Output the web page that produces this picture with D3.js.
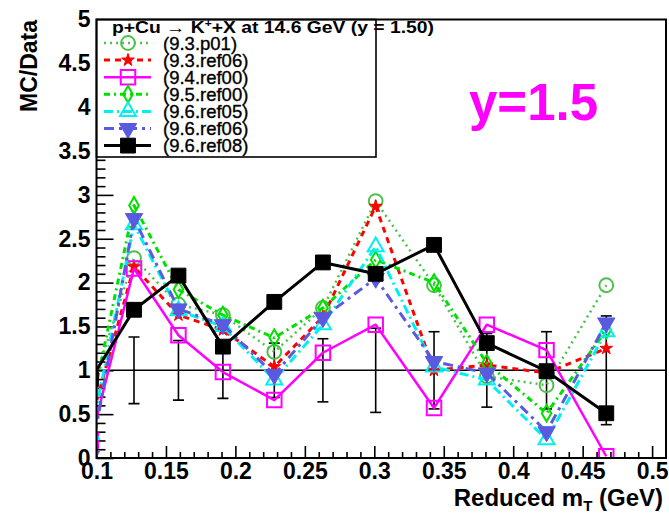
<!DOCTYPE html>
<html>
<head>
<meta charset="utf-8">
<script src="https://cdn.jsdelivr.net/npm/d3@7"></script>
<style>
  html, body { margin: 0; padding: 0; background: #fff; }
  svg { display: block; font-family: "Liberation Sans", Arial, sans-serif; }
</style>
</head>
<body>
<svg id="chart" width="669" height="516"></svg>
<script>
// Bin centres in reduced transverse mass (GeV)
const mtBins = [0.096, 0.127, 0.159, 0.191, 0.228, 0.263, 0.301, 0.343, 0.381, 0.424, 0.467];

// Relative data uncertainty drawn around the MC/Data = 1 reference
const dataErr = [0.40, 0.38, 0.34, 0.32, 0.31, 0.36, 0.48, 0.44, 0.42, 0.44, 0.62];

// MC/Data ratio for each generator version
const v93p01   = [0.75, 2.28, 1.75, 1.63, 1.21, 1.71, 2.93, 1.97, 0.93, 0.83, 1.97];
const v93ref06 = [0.42, 2.18, 1.63, 1.46, 1.04, 1.61, 2.87, 1.00, 1.06, 0.97, 1.25];
const v94ref00 = [0.20, 2.16, 1.40, 0.98, 0.66, 1.20, 1.52, 0.57, 1.52, 1.23, 0.02];
const v95ref00 = [0.55, 2.88, 1.92, 1.63, 1.37, 1.71, 2.26, 2.00, 1.08, 0.51, 1.46];
const v96ref05 = [0.27, 2.66, 1.68, 1.50, 0.89, 1.52, 2.41, 1.04, 0.89, 0.21, 1.44];
const v96ref06 = [0.02, 2.73, 1.70, 1.52, 0.95, 1.60, 2.05, 1.10, 0.97, 0.30, 1.54];
const v96ref08 = [0.90, 1.69, 2.08, 1.27, 1.78, 2.23, 2.10, 2.43, 1.31, 0.99, 0.51];

const seriesNames = ["(9.3.p01)", "(9.3.ref06)", "(9.4.ref00)", "(9.5.ref00)", "(9.6.ref05)", "(9.6.ref06)", "(9.6.ref08)"];

// Axis tick labels
const xTickValues = [0.1, 0.15, 0.2, 0.25, 0.3, 0.35, 0.4, 0.45, 0.5];
const xTickLabels = ["0.1", "0.15", "0.2", "0.25", "0.3", "0.35", "0.4", "0.45", "0.5"];
const yTickValues = [0, 0.5, 1, 1.5, 2, 2.5, 3, 3.5, 4, 4.5, 5];
const yTickLabels = ["0", "0.5", "1", "1.5", "2", "2.5", "3", "3.5", "4", "4.5", "5"];

// Style for each series (colour, dash pattern, marker)
const styles = [
  { color: "#4cc24c", dash: "2,4",        width: 2.5, symbol: d3.symbolCircle,   size: 150, filled: false, rot: 0 },
  { color: "#ff0000", dash: "6,5",        width: 3,   symbol: d3.symbolStar,     size: 50,  filled: true,  rot: 0 },
  { color: "#ff00ff", dash: null,         width: 2.5, symbol: d3.symbolSquare,   size: 210, filled: false, rot: 0 },
  { color: "#00e000", dash: "6,4,2,4",    width: 3,   symbol: d3.symbolDiamond,  size: 80,  filled: false, rot: 0 },
  { color: "#00f0f0", dash: "9,4,2,4",    width: 3,   symbol: d3.symbolTriangle, size: 110, filled: false, rot: 0 },
  { color: "#5a5ae0", dash: "10,5,3,5",   width: 3,   symbol: d3.symbolTriangle, size: 130, filled: true,  rot: 180 },
  { color: "#000000", dash: null,         width: 3,   symbol: d3.symbolSquare,   size: 220, filled: true,  rot: 0 }
];
const seriesValues = [v93p01, v93ref06, v94ref00, v95ref00, v96ref05, v96ref06, v96ref08];

const svg = d3.select("#chart");
const frame = { left: 96.5, right: 666, top: 19.5, bottom: 458 };

const x = d3.scaleLinear().domain([0.1, 0.51]).range([frame.left, frame.right]);
const y = d3.scaleLinear().domain([0, 5]).range([frame.bottom, frame.top]);

svg.append("defs").append("clipPath").attr("id", "plotClip")
  .append("rect")
  .attr("x", frame.left).attr("y", frame.top)
  .attr("width", frame.right - frame.left).attr("height", frame.bottom - frame.top);

// Axes: minor ticks first, then major ticks with labels
const xMinor = d3.range(0.11, 0.51, 0.01).filter(v => Math.abs(v * 20 - Math.round(v * 20)) > 1e-6);
svg.append("g").attr("transform", `translate(0,${frame.bottom})`)
  .call(d3.axisBottom(x).tickValues(xMinor).tickSize(-6).tickFormat(""))
  .call(g => g.select(".domain").remove())
  .call(g => g.selectAll("line").attr("stroke", "#000").attr("stroke-width", 1.6));

svg.append("g").attr("transform", `translate(0,${frame.bottom})`)
  .call(d3.axisBottom(x).tickValues(xTickValues).tickSize(-12).tickPadding(5)
    .tickFormat((d, i) => xTickLabels[i]))
  .call(g => g.select(".domain").remove())
  .call(g => g.selectAll("line").attr("stroke", "#000").attr("stroke-width", 1.6))
  .call(g => g.selectAll("text").attr("font-size", 23).attr("font-weight", "bold")
    .attr("fill", "#000").attr("font-family", "Liberation Sans, Arial, sans-serif"));

const yMinor = d3.range(0, 50).map(i => i / 10).filter(v => Math.abs(v * 2 - Math.round(v * 2)) > 1e-6);
svg.append("g").attr("transform", `translate(${frame.left},0)`)
  .call(d3.axisLeft(y).tickValues(yMinor).tickSize(-9).tickFormat(""))
  .call(g => g.select(".domain").remove())
  .call(g => g.selectAll("line").attr("stroke", "#000").attr("stroke-width", 1.6));

svg.append("g").attr("transform", `translate(${frame.left},0)`)
  .call(d3.axisLeft(y).tickValues(yTickValues).tickSize(-17).tickPadding(6)
    .tickFormat((d, i) => yTickLabels[i]))
  .call(g => g.select(".domain").remove())
  .call(g => g.selectAll("line").attr("stroke", "#000").attr("stroke-width", 1.6))
  .call(g => g.selectAll("text").attr("font-size", 23).attr("font-weight", "bold")
    .attr("fill", "#000").attr("font-family", "Liberation Sans, Arial, sans-serif"));

const plot = svg.append("g").attr("clip-path", "url(#plotClip)");

// Reference line at MC/Data = 1
plot.append("line")
  .attr("x1", frame.left).attr("x2", frame.right)
  .attr("y1", y(1)).attr("y2", y(1))
  .attr("stroke", "#000").attr("stroke-width", 1.6);

// Data uncertainty bars
const eb = plot.append("g").attr("stroke", "#000").attr("stroke-width", 1.6);
mtBins.forEach((m, i) => {
  const cx = x(m), y0 = y(1 - dataErr[i]), y1 = y(1 + dataErr[i]);
  eb.append("line").attr("x1", cx).attr("x2", cx).attr("y1", y0).attr("y2", y1);
  eb.append("line").attr("x1", cx - 5.5).attr("x2", cx + 5.5).attr("y1", y0).attr("y2", y0);
  eb.append("line").attr("x1", cx - 5.5).attr("x2", cx + 5.5).attr("y1", y1).attr("y2", y1);
});

const line = d3.line().x(d => x(d[0])).y(d => y(d[1]));

function drawMarker(g, st, cx, cy) {
  g.append("path")
    .attr("d", d3.symbol().type(st.symbol).size(st.size)())
    .attr("transform", `translate(${cx},${cy}) rotate(${st.rot})`)
    .attr("fill", st.filled ? st.color : "none")
    .attr("stroke", st.color)
    .attr("stroke-width", st.filled ? 1 : 2);
}

seriesValues.forEach((vals, s) => {
  const st = styles[s];
  const pts = mtBins.map((m, i) => [m, vals[i]]);
  plot.append("path")
    .attr("d", line(pts))
    .attr("fill", "none")
    .attr("stroke", st.color)
    .attr("stroke-width", st.width)
    .attr("stroke-dasharray", st.dash)
    .attr("stroke-linejoin", "round");
  const mg = plot.append("g");
  pts.forEach(p => drawMarker(mg, st, x(p[0]), y(p[1])));
});

// Legend box
const leg = svg.append("g");
leg.append("rect")
  .attr("x", frame.left).attr("y", frame.top)
  .attr("width", 376 - frame.left).attr("height", 157 - frame.top)
  .attr("fill", "#fff").attr("stroke", "#000").attr("stroke-width", 1.6);

const title = leg.append("text")
  .attr("x", 112).attr("y", 33)
  .attr("font-size", 16).attr("font-weight", "bold").attr("fill", "#000")
  .attr("textLength", 322).attr("lengthAdjust", "spacingAndGlyphs");
title.append("tspan").text("p+Cu \u2192 K");
title.append("tspan").attr("font-size", 10).attr("dy", -6).text("+");
title.append("tspan").attr("dy", 6).text("+X at 14.6 GeV (y = 1.50)");

seriesNames.forEach((name, i) => {
  const st = styles[i];
  const cy = 43 + i * 17.1;
  leg.append("line")
    .attr("x1", 104).attr("x2", 151).attr("y1", cy).attr("y2", cy)
    .attr("stroke", st.color).attr("stroke-width", st.width)
    .attr("stroke-dasharray", st.dash);
  drawMarker(leg, st, 128, cy);
  leg.append("text")
    .attr("x", 163).attr("y", cy)
    .attr("dy", "0.36em")
    .attr("font-size", 18.5).attr("fill", "#000")
    .attr("stroke", "#000").attr("stroke-width", 0.35)
    .text(name);
});

// Frame around the plot
svg.append("rect")
  .attr("x", frame.left).attr("y", frame.top)
  .attr("width", frame.right - frame.left).attr("height", frame.bottom - frame.top)
  .attr("fill", "none").attr("stroke", "#000").attr("stroke-width", 2);

// Rapidity tag
svg.append("text")
  .attr("x", 469).attr("y", 120)
  .attr("font-size", 51).attr("font-weight", "bold").attr("fill", "#ff00ff")
  .text("y=1.5");

// Axis titles
svg.append("text")
  .attr("transform", "translate(37,20) rotate(-90)")
  .attr("text-anchor", "end")
  .attr("font-size", 23).attr("font-weight", "bold").attr("fill", "#000")
  .text("MC/Data");

const xt = svg.append("text")
  .attr("x", 663).attr("y", 506)
  .attr("text-anchor", "end")
  .attr("font-size", 24).attr("font-weight", "bold").attr("fill", "#000");
xt.append("tspan").text("Reduced m");
xt.append("tspan").attr("font-size", 15).attr("dy", 5).text("T");
xt.append("tspan").attr("dy", -5).text(" (GeV)");
</script>
</body>
</html>
